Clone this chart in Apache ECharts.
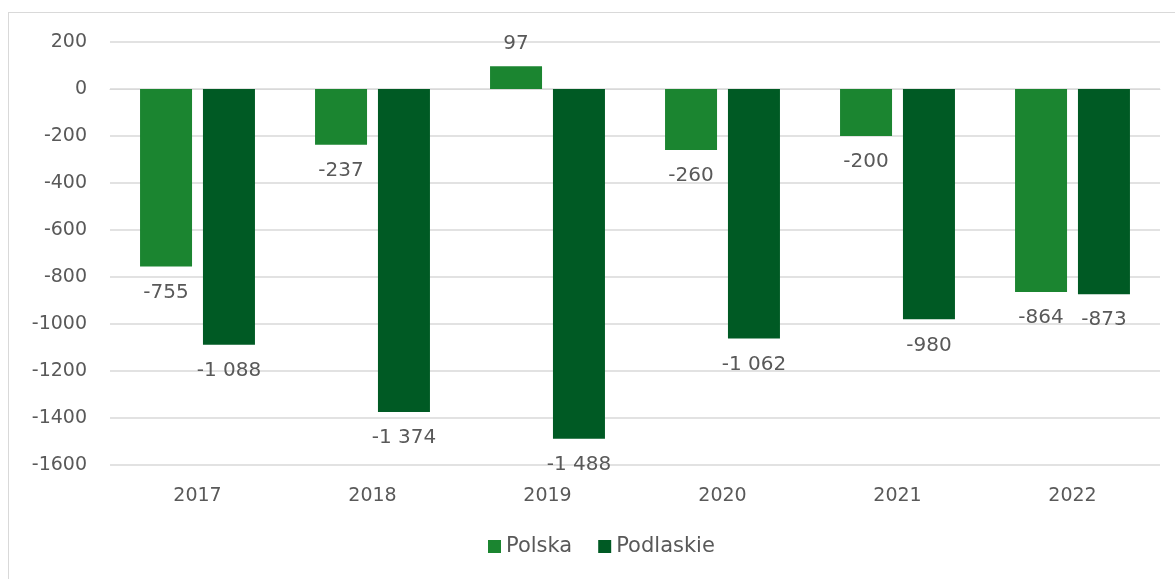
<!DOCTYPE html>
<html><head><meta charset="utf-8">
<script src="https://cdn.jsdelivr.net/npm/echarts@6/dist/echarts.min.js"></script>
<style>html,body{margin:0;padding:0;background:#fff;}#c{width:1175px;height:579px;}
#frame{position:absolute;left:8px;top:12px;width:1180px;height:580px;border:1px solid #d9d9d9;box-sizing:border-box;pointer-events:none;}</style>
</head><body><div id="frame"></div><div id="c"></div>
<script>
const categories = ['2017','2018','2019','2020','2021','2022'];
const polska = [-755, -237, 97, -260, -200, -864];
const podlaskie = [-1088, -1374, -1488, -1062, -980, -873];
const seriesNames = ['Polska','Podlaskie'];
const colors = ['#1b8530','#005a24'];
const font = '"DejaVu Sans", sans-serif';
function fmt(v){ const s = Math.abs(v).toString().replace(/\B(?=(\d{3})+(?!\d))/g,' '); return (v<0?'-':'')+s; }
const chart = echarts.init(document.getElementById('c'));
function mk(name, data, color){
  return {name, type:'bar', data, barWidth:52, barGap:'21%',
    itemStyle:{color},
    label:{show:true, formatter:p=>fmt(p.value), color:'#595959', fontSize:20, fontFamily:font,
      position:'bottom', distance:16}};
}
const s1 = mk(seriesNames[0], polska.map(v=>({value:v, label:{position: v>=0?'top':'bottom', distance: v>=0?12:16}})), colors[0]);
const s2 = mk(seriesNames[1], podlaskie.map(v=>({value:v, label:{position: v>=0?'top':'bottom'}})), colors[1]);
chart.setOption({
  animation:false,
  textStyle:{fontFamily:font},
  grid:{left:110, right:15, top:42, bottom:114},
  legend:{bottom:17, left:483, itemWidth:13, itemHeight:13, itemGap:26, icon:'rect',
    textStyle:{color:'#595959', fontSize:21, fontFamily:font}, data:seriesNames},
  xAxis:{type:'category', data:categories, axisTick:{show:false},
    axisLine:{show:true, lineStyle:{color:'#d9d9d9', width:1}},
    axisLabel:{color:'#595959', fontSize:19, margin:22, fontFamily:font}},
  yAxis:{type:'value', min:-1600, max:200, interval:200,
    axisLine:{show:false}, axisTick:{show:false},
    splitLine:{lineStyle:{color:'#d9d9d9', width:1.5}},
    axisLabel:{color:'#595959', fontSize:19, margin:23, fontFamily:font, formatter:v=>String(v)}},
  series:[s1, s2]
});
</script></body></html>
